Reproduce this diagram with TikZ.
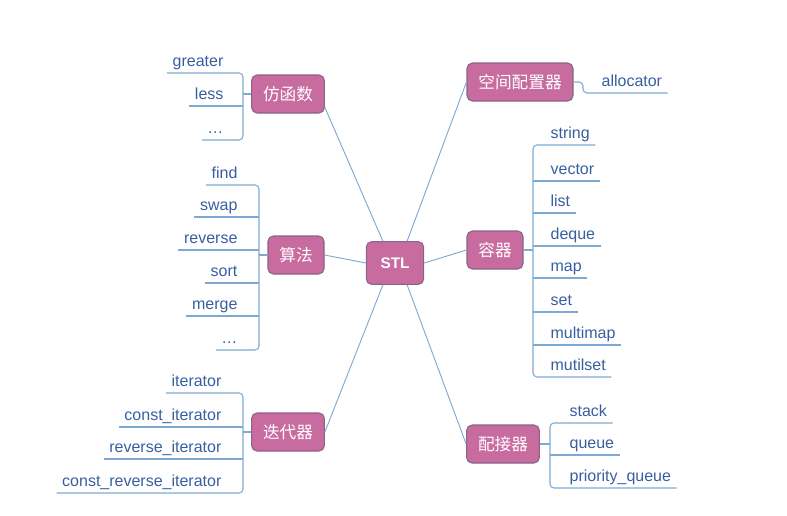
\documentclass[tikz,border=0pt]{standalone}
\usepackage{fontspec}
\setmainfont{Liberation Sans}
\newfontfamily\cjk{Noto Sans CJK SC}
\usetikzlibrary{positioning}

\definecolor{boxfill}{RGB}{200,108,160}
\definecolor{boxline}{RGB}{135,100,135}
\definecolor{linkline}{RGB}{125,170,210}
\definecolor{leaftext}{RGB}{55,95,160}

\begin{document}
\begin{tikzpicture}[
    %–––– GLOBAL STYLE TWEAKS ––––
    x=0.75pt, y=-0.75pt,                            % pixel grid
    box/.style = {rectangle, draw=boxline, line width=0.8pt,
                  fill=boxfill, rounded corners=4pt, text=white,
                  font=\cjk\fontsize{12.5}{14}\selectfont,
                  minimum height=28.5pt, inner xsep=8.5pt},
    rootbox/.style = {box, minimum width=43pt, minimum height=32pt,
                      font=\bfseries\fontsize{11.5}{13}\selectfont},
    leaf/.style = {inner xsep=4pt, inner ysep=0pt, text height=8.6pt,
                   text depth=4.5pt, text=leaftext,
                   font=\fontsize{12}{14}\selectfont},
    leafL/.style = {leaf, anchor=south east},       % text left of bracket
    leafR/.style = {leaf, anchor=south west},       % text right of bracket
    link/.style = {draw=linkline, line width=0.7pt},
    branch/.style = {draw=linkline, line width=0.8pt, rounded corners=3pt},
]
\useasboundingbox (0,0) rectangle (787,515);

%–––– MAIN NODES ––––
\node (stl)       [rootbox] at (395,263) {STL};
\node (functor)   [box]     at (288,94)  {仿函数};
\node (algo)      [box]     at (296,255) {算法};
\node (iter)      [box]     at (288,432) {迭代器};
\node (alloc)     [box]     at (520,82)  {空间配置器};
\node (container) [box]     at (495,250) {容器};
\node (adapter)   [box]     at (503,444) {配接器};

%–––– BRACKET COLUMNS ––––
\coordinate (fbrk) at (243,0);
\coordinate (abrk) at (259,0);
\coordinate (ibrk) at (243,0);
\coordinate (cbrk) at (533,0);
\coordinate (pbrk) at (550,0);
\coordinate (albrk) at (583,93);

%–––– LEAVES ––––
\foreach \n/\t/\y in {greater/greater/73, less/less/106, fdots/\ldots/140}
  \node (\n) [leafL] at (229,\y) {\t};

\foreach \n/\t/\y in {find/find/185, swap/swap/217, reverse/reverse/250,
                      sort/sort/283, merge/merge/316, adots/\ldots/350}
  \node (\n) [leafL] at (243,\y) {\t};

\foreach \n/\t/\y in {iterator/iterator/393, citer/const\_iterator/427,
                      riter/reverse\_iterator/459,
                      criter/const\_reverse\_iterator/493}
  \node (\n) [leafL] at (227,\y) {\t};

\foreach \n/\t/\y in {string/string/145, vector/vector/181, list/list/213,
                      deque/deque/246, map/map/278, set/set/312,
                      multimap/multimap/345, mutilset/mutilset/377}
  \node (\n) [leafR] at (545,\y) {\t};

\foreach \n/\t/\y in {stack/stack/423, queue/queue/455,
                      pqueue/priority\_queue/488}
  \node (\n) [leafR] at (564,\y) {\t};

\node (allocator) [leafR] at (596,93) {allocator};

%–––– LINKS FROM STL ––––
\foreach \a/\b in {stl.119/functor.-20, stl.61/alloc.west,
                   stl.west/algo.east, stl.east/container.west,
                   stl.241/iter.east, stl.299/adapter.west}
  \draw[link] (\a) -- (\b);

%–––– BRACKETS AND UNDERLINES ––––
% left side
\foreach \hub/\first/\last/\brk in {functor/greater/fdots/fbrk,
                                    algo/find/adots/abrk,
                                    iter/iterator/criter/ibrk}{
  \draw[branch] (\first.south west) -- (\first.south west -| \brk)
                -- (\last.south west -| \brk) -- (\last.south west);
  \draw[branch] (\hub.west) -- (\hub.west -| \brk);
}
\foreach \n/\brk in {less/fbrk, swap/abrk, reverse/abrk, sort/abrk,
                     merge/abrk, citer/ibrk, riter/ibrk}
  \draw[branch] (\n.south west) -- (\n.south west -| \brk);

% right side
\foreach \hub/\first/\last/\brk in {container/string/mutilset/cbrk,
                                    adapter/stack/pqueue/pbrk}{
  \draw[branch] (\first.south east) -- (\first.south east -| \brk)
                -- (\last.south east -| \brk) -- (\last.south east);
  \draw[branch] (\hub.east) -- (\hub.east -| \brk);
}
\foreach \n/\brk in {vector/cbrk, list/cbrk, deque/cbrk, map/cbrk,
                     set/cbrk, multimap/cbrk, queue/pbrk}
  \draw[branch] (\n.south east) -- (\n.south east -| \brk);

\draw[branch] (alloc.east) -| (albrk) -- (allocator.south east);
\end{tikzpicture}
\end{document}
